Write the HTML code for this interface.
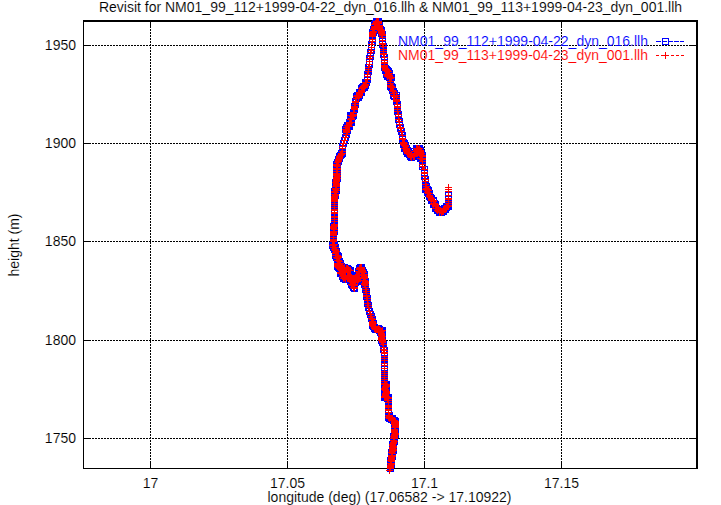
<!DOCTYPE html>
<html><head><meta charset="utf-8"><style>
html,body{margin:0;padding:0;background:#fff;width:721px;height:505px;overflow:hidden}
svg{display:block}
</style></head><body>
<svg width="721" height="505" viewBox="0 0 721 505">
<rect width="721" height="505" fill="#fff"/>
<g shape-rendering="crispEdges">
<line x1="83" y1="45.5" x2="696" y2="45.5" stroke="#000" stroke-width="1" stroke-dasharray="2 1"/>
<line x1="83" y1="143.5" x2="696" y2="143.5" stroke="#000" stroke-width="1" stroke-dasharray="2 1"/>
<line x1="83" y1="241.5" x2="696" y2="241.5" stroke="#000" stroke-width="1" stroke-dasharray="2 1"/>
<line x1="83" y1="340.5" x2="696" y2="340.5" stroke="#000" stroke-width="1" stroke-dasharray="2 1"/>
<line x1="83" y1="438.5" x2="696" y2="438.5" stroke="#000" stroke-width="1" stroke-dasharray="2 1"/>
<line x1="150.5" y1="20" x2="150.5" y2="468" stroke="#000" stroke-width="1" stroke-dasharray="2 1"/>
<line x1="287.5" y1="20" x2="287.5" y2="468" stroke="#000" stroke-width="1" stroke-dasharray="2 1"/>
<line x1="424.5" y1="20" x2="424.5" y2="468" stroke="#000" stroke-width="1" stroke-dasharray="2 1"/>
<line x1="561.5" y1="20" x2="561.5" y2="468" stroke="#000" stroke-width="1" stroke-dasharray="2 1"/>
<rect x="83" y="45" width="8" height="1" fill="#000"/>
<rect x="689" y="45" width="8" height="1" fill="#000"/>
<rect x="83" y="143" width="8" height="1" fill="#000"/>
<rect x="689" y="143" width="8" height="1" fill="#000"/>
<rect x="83" y="241" width="8" height="1" fill="#000"/>
<rect x="689" y="241" width="8" height="1" fill="#000"/>
<rect x="83" y="340" width="8" height="1" fill="#000"/>
<rect x="689" y="340" width="8" height="1" fill="#000"/>
<rect x="83" y="438" width="8" height="1" fill="#000"/>
<rect x="689" y="438" width="8" height="1" fill="#000"/>
<rect x="150" y="461" width="1" height="8" fill="#000"/>
<rect x="150" y="20" width="1" height="8" fill="#000"/>
<rect x="287" y="461" width="1" height="8" fill="#000"/>
<rect x="287" y="20" width="1" height="8" fill="#000"/>
<rect x="424" y="461" width="1" height="8" fill="#000"/>
<rect x="424" y="20" width="1" height="8" fill="#000"/>
<rect x="561" y="461" width="1" height="8" fill="#000"/>
<rect x="561" y="20" width="1" height="8" fill="#000"/>
<rect x="83" y="20" width="615" height="2" fill="#000"/>
<rect x="83" y="468" width="615" height="1" fill="#000"/>
<rect x="83" y="20" width="1" height="449" fill="#000"/>
<rect x="696" y="20" width="2" height="449" fill="#000"/>
<rect x="656" y="41" width="5" height="1" fill="#0000ff"/>
<rect x="662" y="41" width="5" height="1" fill="#0000ff"/>
<rect x="668" y="41" width="5" height="1" fill="#0000ff"/>
<rect x="674" y="41" width="5" height="1" fill="#0000ff"/>
<rect x="680" y="41" width="4" height="1" fill="#0000ff"/>
<path d="M662.5 38.5h6v6h-6z" fill="none" stroke="#0000ff" stroke-width="1"/>
<rect x="656" y="55" width="3" height="1" fill="#ff0000"/>
<rect x="661" y="55" width="3" height="1" fill="#ff0000"/>
<rect x="666" y="55" width="3" height="1" fill="#ff0000"/>
<rect x="671" y="55" width="3" height="1" fill="#ff0000"/>
<rect x="676" y="55" width="3" height="1" fill="#ff0000"/>
<rect x="681" y="55" width="3" height="1" fill="#ff0000"/>
<rect x="662" y="55" width="7" height="1" fill="#ff0000"/>
<rect x="665" y="52" width="1" height="7" fill="#ff0000"/>
</g>
<text x="390.5" y="12" font-family="Liberation Sans, sans-serif" font-size="14" stroke="#fff" stroke-width="0.12" text-anchor="middle">Revisit for NM01_99_112+1999-04-22_dyn_016.llh &amp; NM01_99_113+1999-04-23_dyn_001.llh</text>
<text x="76" y="50" font-family="Liberation Sans, sans-serif" font-size="14" stroke="#fff" stroke-width="0.12" text-anchor="end">1950</text>
<text x="76" y="148" font-family="Liberation Sans, sans-serif" font-size="14" stroke="#fff" stroke-width="0.12" text-anchor="end">1900</text>
<text x="76" y="246" font-family="Liberation Sans, sans-serif" font-size="14" stroke="#fff" stroke-width="0.12" text-anchor="end">1850</text>
<text x="76" y="345" font-family="Liberation Sans, sans-serif" font-size="14" stroke="#fff" stroke-width="0.12" text-anchor="end">1800</text>
<text x="76" y="443" font-family="Liberation Sans, sans-serif" font-size="14" stroke="#fff" stroke-width="0.12" text-anchor="end">1750</text>
<text x="150.5" y="488" font-family="Liberation Sans, sans-serif" font-size="14" stroke="#fff" stroke-width="0.12" text-anchor="middle">17</text>
<text x="287.5" y="488" font-family="Liberation Sans, sans-serif" font-size="14" stroke="#fff" stroke-width="0.12" text-anchor="middle">17.05</text>
<text x="424.5" y="488" font-family="Liberation Sans, sans-serif" font-size="14" stroke="#fff" stroke-width="0.12" text-anchor="middle">17.1</text>
<text x="561.5" y="488" font-family="Liberation Sans, sans-serif" font-size="14" stroke="#fff" stroke-width="0.12" text-anchor="middle">17.15</text>
<text x="389.5" y="502" font-family="Liberation Sans, sans-serif" font-size="14" stroke="#fff" stroke-width="0.12" text-anchor="middle">longitude (deg) (17.06582 -&gt; 17.10922)</text>
<text transform="translate(19,245) rotate(-90)" font-family="Liberation Sans, sans-serif" font-size="14" stroke="#fff" stroke-width="0.12" text-anchor="middle">height (m)</text>
<text x="398" y="46" font-family="Liberation Sans, sans-serif" font-size="14" stroke="#fff" stroke-width="0.12" fill="#0000ff">NM01_99_112+1999-04-22_dyn_016.llh</text>
<text x="398" y="60" font-family="Liberation Sans, sans-serif" font-size="14" stroke="#fff" stroke-width="0.12" fill="#ff0000">NM01_99_113+1999-04-23_dyn_001.llh</text>
<g shape-rendering="crispEdges"><path fill="#0000ff" d="M373 18h3v1h-3zM379 18h3v1h-3zM373 19h3v1h-3zM379 19h3v1h-3zM372 20h3v1h-3zM379 20h3v1h-3zM371 21h2v1h-2zM371 22h2v1h-2zM382 22h1v1h-1zM371 23h1v1h-1zM382 23h1v1h-1zM380 24h3v1h-3zM371 25h3v1h-3zM370 26h1v1h-1zM383 26h1v1h-1zM370 27h1v1h-1zM383 27h2v1h-2zM370 28h1v1h-1zM383 28h2v1h-2zM369 29h1v1h-1zM384 29h1v1h-1zM369 30h3v1h-3zM375 30h2v1h-2zM369 31h1v1h-1zM377 31h1v1h-1zM385 31h1v1h-1zM377 32h1v1h-1zM385 32h1v1h-1zM376 33h2v1h-2zM385 33h1v1h-1zM376 34h1v1h-1zM378 34h1v1h-1zM376 35h1v1h-1zM378 35h1v1h-1zM378 36h3v1h-3zM383 36h3v1h-3zM369 37h3v1h-3zM373 37h3v1h-3zM369 38h3v1h-3zM373 38h3v1h-3zM379 38h3v1h-3zM383 38h3v1h-3zM379 39h1v1h-1zM385 39h1v1h-1zM369 40h1v1h-1zM375 40h1v1h-1zM368 41h1v1h-1zM379 41h3v1h-3zM383 41h3v1h-3zM368 42h3v1h-3zM373 42h3v1h-3zM379 42h1v1h-1zM385 42h1v1h-1zM368 43h2v1h-2zM374 43h2v1h-2zM386 43h1v1h-1zM375 44h1v1h-1zM386 44h1v1h-1zM368 45h1v1h-1zM374 45h1v1h-1zM379 45h2v1h-2zM385 45h2v1h-2zM368 46h1v1h-1zM374 46h1v1h-1zM379 46h1v1h-1zM379 47h3v1h-3zM384 47h3v1h-3zM368 48h1v1h-1zM374 48h1v1h-1zM380 48h3v1h-3zM384 48h3v1h-3zM367 49h3v1h-3zM372 49h3v1h-3zM367 50h1v1h-1zM380 50h3v1h-3zM384 50h3v1h-3zM367 51h2v1h-2zM373 51h2v1h-2zM374 52h1v1h-1zM380 52h3v1h-3zM384 52h3v1h-3zM367 53h3v1h-3zM372 53h3v1h-3zM367 54h1v1h-1zM373 54h1v1h-1zM387 54h1v1h-1zM366 55h3v1h-3zM371 55h3v1h-3zM380 55h2v1h-2zM386 55h2v1h-2zM366 56h1v1h-1zM380 56h3v1h-3zM385 56h3v1h-3zM366 57h2v1h-2zM372 57h2v1h-2zM380 57h1v1h-1zM373 58h1v1h-1zM381 58h1v1h-1zM387 58h1v1h-1zM366 59h3v1h-3zM371 59h3v1h-3zM381 59h3v1h-3zM385 59h3v1h-3zM366 60h1v1h-1zM372 60h1v1h-1zM381 61h1v1h-1zM387 61h1v1h-1zM366 62h1v1h-1zM372 62h1v1h-1zM366 63h1v1h-1zM372 63h1v1h-1zM365 64h1v1h-1zM381 64h3v1h-3zM385 64h3v1h-3zM365 65h2v1h-2zM371 65h2v1h-2zM388 65h1v1h-1zM365 66h3v1h-3zM370 66h3v1h-3zM388 66h2v1h-2zM372 67h1v1h-1zM388 67h3v1h-3zM365 68h3v1h-3zM369 68h3v1h-3zM381 68h1v1h-1zM389 68h3v1h-3zM381 69h1v1h-1zM390 69h2v1h-2zM365 70h3v1h-3zM369 70h3v1h-3zM381 70h1v1h-1zM391 70h2v1h-2zM364 71h1v1h-1zM382 71h2v1h-2zM392 71h1v1h-1zM364 72h3v1h-3zM369 72h3v1h-3zM382 72h3v1h-3zM390 72h3v1h-3zM364 73h3v1h-3zM369 73h3v1h-3zM382 73h3v1h-3zM371 74h1v1h-1zM392 74h3v1h-3zM364 75h1v1h-1zM370 75h1v1h-1zM383 75h1v1h-1zM393 75h2v1h-2zM383 76h1v1h-1zM393 76h2v1h-2zM364 77h3v1h-3zM368 77h3v1h-3zM383 77h3v1h-3zM364 78h1v1h-1zM370 78h1v1h-1zM384 78h3v1h-3zM394 78h1v1h-1zM362 79h2v1h-2zM384 79h3v1h-3zM388 79h1v1h-1zM392 79h3v1h-3zM362 80h3v1h-3zM368 80h3v1h-3zM386 80h3v1h-3zM392 80h3v1h-3zM362 81h3v1h-3zM368 81h3v1h-3zM370 82h1v1h-1zM387 82h3v1h-3zM391 82h3v1h-3zM360 83h3v1h-3zM367 83h3v1h-3zM394 83h1v1h-1zM359 84h3v1h-3zM369 84h1v1h-1zM387 84h3v1h-3zM393 84h3v1h-3zM358 85h3v1h-3zM369 85h1v1h-1zM394 85h2v1h-2zM358 86h2v1h-2zM368 86h1v1h-1zM395 86h1v1h-1zM358 87h1v1h-1zM368 87h1v1h-1zM387 87h1v1h-1zM366 88h3v1h-3zM387 88h3v1h-3zM394 88h3v1h-3zM356 89h3v1h-3zM360 89h1v1h-1zM365 89h3v1h-3zM387 89h3v1h-3zM394 89h3v1h-3zM356 90h2v1h-2zM365 90h3v1h-3zM388 90h1v1h-1zM396 90h2v1h-2zM356 91h2v1h-2zM365 91h1v1h-1zM389 91h1v1h-1zM397 91h1v1h-1zM354 92h2v1h-2zM389 92h3v1h-3zM395 92h1v1h-1zM397 92h3v1h-3zM353 93h3v1h-3zM363 93h2v1h-2zM389 93h1v1h-1zM399 93h1v1h-1zM353 94h3v1h-3zM363 94h2v1h-2zM390 94h3v1h-3zM395 94h1v1h-1zM397 94h3v1h-3zM353 95h1v1h-1zM363 95h2v1h-2zM362 96h1v1h-1zM390 96h1v1h-1zM398 96h2v1h-2zM353 97h2v1h-2zM362 97h1v1h-1zM390 97h2v1h-2zM352 98h1v1h-1zM360 98h3v1h-3zM390 98h3v1h-3zM395 98h1v1h-1zM397 98h3v1h-3zM352 99h3v1h-3zM357 99h1v1h-1zM359 99h3v1h-3zM391 99h2v1h-2zM352 100h2v1h-2zM357 100h1v1h-1zM359 100h3v1h-3zM359 101h1v1h-1zM400 101h1v1h-1zM393 102h3v1h-3zM398 102h3v1h-3zM351 103h3v1h-3zM356 103h3v1h-3zM393 103h3v1h-3zM398 103h3v1h-3zM351 104h1v1h-1zM393 104h1v1h-1zM351 105h3v1h-3zM356 105h3v1h-3zM394 105h1v1h-1zM400 105h1v1h-1zM358 106h1v1h-1zM358 107h1v1h-1zM394 108h3v1h-3zM398 108h3v1h-3zM350 109h1v1h-1zM350 110h3v1h-3zM355 110h3v1h-3zM394 110h3v1h-3zM398 110h3v1h-3zM350 111h3v1h-3zM355 111h3v1h-3zM401 111h1v1h-1zM347 112h3v1h-3zM357 112h1v1h-1zM394 112h3v1h-3zM399 112h3v1h-3zM347 113h3v1h-3zM354 113h3v1h-3zM394 113h3v1h-3zM399 113h3v1h-3zM347 114h3v1h-3zM394 114h1v1h-1zM395 115h1v1h-1zM401 115h1v1h-1zM347 116h2v1h-2zM356 116h1v1h-1zM347 117h3v1h-3zM354 117h3v1h-3zM395 117h3v1h-3zM399 117h3v1h-3zM347 118h1v1h-1zM355 118h2v1h-2zM395 118h3v1h-3zM400 118h3v1h-3zM346 119h1v1h-1zM355 119h1v1h-1zM402 119h1v1h-1zM346 120h3v1h-3zM352 120h3v1h-3zM395 120h2v1h-2zM401 120h2v1h-2zM346 121h3v1h-3zM352 121h3v1h-3zM395 121h1v1h-1zM344 122h2v1h-2zM395 122h3v1h-3zM400 122h3v1h-3zM344 123h2v1h-2zM353 123h2v1h-2zM396 123h1v1h-1zM402 123h1v1h-1zM343 124h3v1h-3zM352 124h3v1h-3zM403 124h1v1h-1zM343 125h1v1h-1zM352 125h3v1h-3zM396 125h3v1h-3zM401 125h3v1h-3zM342 126h3v1h-3zM396 126h2v1h-2zM402 126h2v1h-2zM342 127h1v1h-1zM350 127h3v1h-3zM396 127h1v1h-1zM342 128h3v1h-3zM350 128h3v1h-3zM404 128h1v1h-1zM350 129h3v1h-3zM397 129h2v1h-2zM403 129h2v1h-2zM342 130h1v1h-1zM397 130h3v1h-3zM402 130h3v1h-3zM342 131h1v1h-1zM350 131h1v1h-1zM397 131h1v1h-1zM342 132h1v1h-1zM350 132h1v1h-1zM398 132h3v1h-3zM403 132h3v1h-3zM343 133h3v1h-3zM348 133h3v1h-3zM398 133h2v1h-2zM404 133h2v1h-2zM342 134h1v1h-1zM398 134h3v1h-3zM403 134h3v1h-3zM342 135h3v1h-3zM347 135h3v1h-3zM342 136h2v1h-2zM348 136h2v1h-2zM399 136h3v1h-3zM403 136h3v1h-3zM341 137h1v1h-1zM349 137h1v1h-1zM399 137h1v1h-1zM405 137h1v1h-1zM341 138h2v1h-2zM347 138h2v1h-2zM341 139h2v1h-2zM347 139h2v1h-2zM406 139h1v1h-1zM340 140h1v1h-1zM348 140h1v1h-1zM399 140h3v1h-3zM405 140h3v1h-3zM340 141h2v1h-2zM346 141h2v1h-2zM399 141h3v1h-3zM405 141h3v1h-3zM340 142h2v1h-2zM346 142h2v1h-2zM399 142h1v1h-1zM407 142h2v1h-2zM339 143h1v1h-1zM347 143h1v1h-1zM408 143h1v1h-1zM339 144h2v1h-2zM345 144h2v1h-2zM407 144h2v1h-2zM339 145h3v1h-3zM344 145h3v1h-3zM400 145h1v1h-1zM409 145h1v1h-1zM413 145h3v1h-3zM418 145h1v1h-1zM420 145h3v1h-3zM346 146h1v1h-1zM400 146h2v1h-2zM409 146h1v1h-1zM413 146h3v1h-3zM420 146h3v1h-3zM339 147h1v1h-1zM345 147h1v1h-1zM400 147h3v1h-3zM408 147h3v1h-3zM413 147h3v1h-3zM421 147h3v1h-3zM410 148h3v1h-3zM423 148h1v1h-1zM339 149h3v1h-3zM343 149h3v1h-3zM401 149h2v1h-2zM410 149h2v1h-2zM413 149h1v1h-1zM422 149h2v1h-2zM338 150h3v1h-3zM343 150h3v1h-3zM401 150h2v1h-2zM411 150h2v1h-2zM424 150h1v1h-1zM338 151h1v1h-1zM401 151h2v1h-2zM410 151h1v1h-1zM424 151h1v1h-1zM337 152h3v1h-3zM343 152h3v1h-3zM403 152h1v1h-1zM412 152h2v1h-2zM424 152h2v1h-2zM336 153h2v1h-2zM403 153h1v1h-1zM425 153h1v1h-1zM336 154h2v1h-2zM345 154h1v1h-1zM403 154h3v1h-3zM424 154h2v1h-2zM336 155h1v1h-1zM344 155h2v1h-2zM404 155h3v1h-3zM335 156h1v1h-1zM343 156h3v1h-3zM404 156h3v1h-3zM418 156h1v1h-1zM335 157h1v1h-1zM343 157h2v1h-2zM406 157h2v1h-2zM415 157h5v1h-5zM423 157h3v1h-3zM335 158h1v1h-1zM343 158h1v1h-1zM407 158h3v1h-3zM412 158h1v1h-1zM415 158h2v1h-2zM334 159h1v1h-1zM342 159h1v1h-1zM407 159h3v1h-3zM412 159h1v1h-1zM415 159h4v1h-4zM334 160h1v1h-1zM342 160h1v1h-1zM408 160h3v1h-3zM412 160h3v1h-3zM417 160h3v1h-3zM423 160h3v1h-3zM333 161h2v1h-2zM342 161h1v1h-1zM417 161h2v1h-2zM333 162h1v1h-1zM341 162h1v1h-1zM419 162h3v1h-3zM423 162h3v1h-3zM333 163h3v1h-3zM339 163h3v1h-3zM419 163h3v1h-3zM423 163h3v1h-3zM341 164h1v1h-1zM340 165h1v1h-1zM419 165h1v1h-1zM425 165h1v1h-1zM333 166h1v1h-1zM426 166h2v1h-2zM333 167h3v1h-3zM338 167h3v1h-3zM419 167h3v1h-3zM425 167h1v1h-1zM427 167h1v1h-1zM419 168h1v1h-1zM421 168h1v1h-1zM425 168h1v1h-1zM427 168h1v1h-1zM419 169h2v1h-2zM333 170h3v1h-3zM338 170h3v1h-3zM421 170h3v1h-3zM425 170h3v1h-3zM421 171h1v1h-1zM427 171h1v1h-1zM333 172h3v1h-3zM338 172h3v1h-3zM340 174h1v1h-1zM421 174h1v1h-1zM427 174h1v1h-1zM421 175h3v1h-3zM425 175h3v1h-3zM333 176h1v1h-1zM428 176h1v1h-1zM340 177h1v1h-1zM421 177h2v1h-2zM427 177h2v1h-2zM421 178h3v1h-3zM426 178h3v1h-3zM332 179h1v1h-1zM340 179h1v1h-1zM421 179h1v1h-1zM332 180h1v1h-1zM340 180h1v1h-1zM422 180h1v1h-1zM428 180h1v1h-1zM332 181h1v1h-1zM340 181h1v1h-1zM339 182h1v1h-1zM422 182h3v1h-3zM426 182h3v1h-3zM332 183h1v1h-1zM422 183h3v1h-3zM427 183h3v1h-3zM332 184h1v1h-1zM429 184h1v1h-1zM332 185h1v1h-1zM422 185h3v1h-3zM427 185h3v1h-3zM422 186h1v1h-1zM430 186h1v1h-1zM332 187h3v1h-3zM337 187h3v1h-3zM422 187h3v1h-3zM429 187h3v1h-3zM331 188h1v1h-1zM422 188h1v1h-1zM430 188h2v1h-2zM331 189h1v1h-1zM339 189h1v1h-1zM431 189h1v1h-1zM331 190h2v1h-2zM422 190h2v1h-2zM432 190h1v1h-1zM338 191h2v1h-2zM422 191h3v1h-3zM430 191h3v1h-3zM339 192h1v1h-1zM422 192h2v1h-2zM431 192h2v1h-2zM445 192h3v1h-3zM449 192h3v1h-3zM331 193h3v1h-3zM337 193h3v1h-3zM424 193h1v1h-1zM445 193h1v1h-1zM451 193h1v1h-1zM424 194h3v1h-3zM431 194h3v1h-3zM445 194h1v1h-1zM451 194h1v1h-1zM331 195h1v1h-1zM424 195h2v1h-2zM433 195h2v1h-2zM338 196h1v1h-1zM425 196h1v1h-1zM433 196h2v1h-2zM445 196h3v1h-3zM449 196h3v1h-3zM338 197h1v1h-1zM426 197h1v1h-1zM434 197h3v1h-3zM445 197h1v1h-1zM451 197h1v1h-1zM338 198h1v1h-1zM426 198h2v1h-2zM435 198h2v1h-2zM426 199h2v1h-2zM436 199h1v1h-1zM427 200h1v1h-1zM437 200h1v1h-1zM445 200h3v1h-3zM449 200h3v1h-3zM428 201h2v1h-2zM437 201h2v1h-2zM331 202h3v1h-3zM335 202h3v1h-3zM428 202h3v1h-3zM432 202h1v1h-1zM436 202h3v1h-3zM445 202h3v1h-3zM449 202h3v1h-3zM428 203h2v1h-2zM438 203h1v1h-1zM443 203h2v1h-2zM331 204h3v1h-3zM335 204h3v1h-3zM443 204h3v1h-3zM449 204h3v1h-3zM430 205h2v1h-2zM439 205h1v1h-1zM441 205h3v1h-3zM331 206h3v1h-3zM335 206h3v1h-3zM430 206h2v1h-2zM439 206h4v1h-4zM430 207h3v1h-3zM434 207h1v1h-1zM441 207h2v1h-2zM450 207h2v1h-2zM331 208h3v1h-3zM335 208h3v1h-3zM449 208h3v1h-3zM432 209h3v1h-3zM449 209h3v1h-3zM432 210h2v1h-2zM447 210h3v1h-3zM331 211h1v1h-1zM337 211h1v1h-1zM432 211h3v1h-3zM447 211h2v1h-2zM434 212h2v1h-2zM446 212h3v1h-3zM434 213h3v1h-3zM438 213h1v1h-1zM444 213h3v1h-3zM331 214h3v1h-3zM335 214h3v1h-3zM436 214h3v1h-3zM440 214h1v1h-1zM444 214h3v1h-3zM331 215h3v1h-3zM335 215h3v1h-3zM436 215h3v1h-3zM440 215h1v1h-1zM442 215h3v1h-3zM331 218h3v1h-3zM335 218h3v1h-3zM331 220h3v1h-3zM335 220h3v1h-3zM331 222h3v1h-3zM335 222h3v1h-3zM330 223h3v1h-3zM335 223h3v1h-3zM330 224h1v1h-1zM330 225h1v1h-1zM337 227h1v1h-1zM337 228h1v1h-1zM330 229h1v1h-1zM330 230h3v1h-3zM335 230h3v1h-3zM337 232h1v1h-1zM337 233h1v1h-1zM337 234h1v1h-1zM330 236h3v1h-3zM334 236h3v1h-3zM330 238h3v1h-3zM334 238h3v1h-3zM337 241h1v1h-1zM329 242h3v1h-3zM335 242h3v1h-3zM329 243h3v1h-3zM335 243h3v1h-3zM329 244h1v1h-1zM338 244h1v1h-1zM337 245h2v1h-2zM329 246h3v1h-3zM336 246h3v1h-3zM329 247h1v1h-1zM329 248h3v1h-3zM337 248h3v1h-3zM330 249h1v1h-1zM339 249h1v1h-1zM330 250h2v1h-2zM339 250h1v1h-1zM331 251h2v1h-2zM331 252h1v1h-1zM339 252h2v1h-2zM339 253h3v1h-3zM332 254h3v1h-3zM339 254h3v1h-3zM341 255h1v1h-1zM332 256h3v1h-3zM332 257h1v1h-1zM332 258h2v1h-2zM341 258h2v1h-2zM333 259h3v1h-3zM340 259h3v1h-3zM333 260h1v1h-1zM342 260h2v1h-2zM334 261h2v1h-2zM343 261h1v1h-1zM334 262h3v1h-3zM341 262h3v1h-3zM344 263h1v1h-1zM343 264h1v1h-1zM345 264h3v1h-3zM357 264h3v1h-3zM362 264h3v1h-3zM345 265h1v1h-1zM348 265h3v1h-3zM356 265h3v1h-3zM362 265h3v1h-3zM345 266h1v1h-1zM349 266h3v1h-3zM356 266h3v1h-3zM362 266h3v1h-3zM334 267h1v1h-1zM351 267h3v1h-3zM356 267h1v1h-1zM365 267h1v1h-1zM334 268h2v1h-2zM351 268h3v1h-3zM355 268h1v1h-1zM365 268h1v1h-1zM334 269h3v1h-3zM352 269h2v1h-2zM355 269h1v1h-1zM365 269h2v1h-2zM335 270h3v1h-3zM355 270h3v1h-3zM366 270h1v1h-1zM336 271h3v1h-3zM351 271h3v1h-3zM366 271h2v1h-2zM351 272h5v1h-5zM367 272h1v1h-1zM346 273h1v1h-1zM351 273h5v1h-5zM360 273h1v1h-1zM365 273h3v1h-3zM337 274h2v1h-2zM346 274h1v1h-1zM352 274h3v1h-3zM337 275h3v1h-3zM367 275h1v1h-1zM337 276h2v1h-2zM360 276h1v1h-1zM339 277h2v1h-2zM339 278h1v1h-1zM368 278h1v1h-1zM339 279h3v1h-3zM361 279h2v1h-2zM366 279h3v1h-3zM340 280h3v1h-3zM346 280h1v1h-1zM368 280h1v1h-1zM340 281h3v1h-3zM344 281h1v1h-1zM346 281h1v1h-1zM361 281h1v1h-1zM342 282h3v1h-3zM346 282h3v1h-3zM359 282h3v1h-3zM347 283h3v1h-3zM356 283h1v1h-1zM358 283h3v1h-3zM347 284h1v1h-1zM358 284h3v1h-3zM368 284h1v1h-1zM348 285h1v1h-1zM358 285h1v1h-1zM361 285h1v1h-1zM348 286h3v1h-3zM355 286h3v1h-3zM361 286h3v1h-3zM366 286h3v1h-3zM348 287h2v1h-2zM361 287h1v1h-1zM349 288h2v1h-2zM362 288h3v1h-3zM367 288h3v1h-3zM350 289h2v1h-2zM356 289h2v1h-2zM369 289h1v1h-1zM350 290h3v1h-3zM355 290h3v1h-3zM362 290h3v1h-3zM367 290h3v1h-3zM351 291h3v1h-3zM355 291h3v1h-3zM362 291h1v1h-1zM362 292h3v1h-3zM367 292h3v1h-3zM363 294h3v1h-3zM367 294h3v1h-3zM370 295h1v1h-1zM370 296h1v1h-1zM363 297h3v1h-3zM368 297h3v1h-3zM363 298h1v1h-1zM363 299h3v1h-3zM368 299h3v1h-3zM364 301h3v1h-3zM368 301h3v1h-3zM364 302h3v1h-3zM369 302h3v1h-3zM371 303h1v1h-1zM364 304h3v1h-3zM369 304h3v1h-3zM364 305h1v1h-1zM364 306h3v1h-3zM369 306h3v1h-3zM365 308h3v1h-3zM370 308h3v1h-3zM365 309h2v1h-2zM371 309h2v1h-2zM365 310h3v1h-3zM370 310h3v1h-3zM373 311h1v1h-1zM366 312h2v1h-2zM372 312h2v1h-2zM366 313h3v1h-3zM372 313h3v1h-3zM366 314h1v1h-1zM374 314h1v1h-1zM367 315h3v1h-3zM372 315h3v1h-3zM367 316h1v1h-1zM375 316h1v1h-1zM367 317h3v1h-3zM373 317h3v1h-3zM375 318h1v1h-1zM368 319h1v1h-1zM368 320h3v1h-3zM374 320h3v1h-3zM368 321h1v1h-1zM376 321h1v1h-1zM376 322h1v1h-1zM376 324h2v1h-2zM376 325h2v1h-2zM379 325h3v1h-3zM369 326h1v1h-1zM380 326h3v1h-3zM369 327h2v1h-2zM381 327h1v1h-1zM383 327h3v1h-3zM369 328h2v1h-2zM383 328h3v1h-3zM370 329h2v1h-2zM383 329h3v1h-3zM371 330h3v1h-3zM371 331h3v1h-3zM385 331h1v1h-1zM372 332h3v1h-3zM384 332h2v1h-2zM376 333h2v1h-2zM385 333h1v1h-1zM377 334h1v1h-1zM385 334h1v1h-1zM377 335h1v1h-1zM385 335h1v1h-1zM378 336h1v1h-1zM385 337h1v1h-1zM385 338h1v1h-1zM378 341h1v1h-1zM386 341h1v1h-1zM378 342h1v1h-1zM386 342h1v1h-1zM378 343h3v1h-3zM384 343h3v1h-3zM379 344h1v1h-1zM379 345h3v1h-3zM384 345h3v1h-3zM380 346h3v1h-3zM384 346h3v1h-3zM387 347h1v1h-1zM380 348h2v1h-2zM386 348h2v1h-2zM387 349h1v1h-1zM380 350h1v1h-1zM380 351h2v1h-2zM386 351h2v1h-2zM380 352h1v1h-1zM381 354h1v1h-1zM387 354h1v1h-1zM381 355h3v1h-3zM385 355h3v1h-3zM381 357h3v1h-3zM385 357h3v1h-3zM381 359h3v1h-3zM385 359h3v1h-3zM381 361h3v1h-3zM385 361h3v1h-3zM381 362h3v1h-3zM385 362h3v1h-3zM381 364h1v1h-1zM387 364h1v1h-1zM381 366h3v1h-3zM385 366h3v1h-3zM381 367h1v1h-1zM387 367h1v1h-1zM381 369h1v1h-1zM387 369h1v1h-1zM381 370h3v1h-3zM385 370h3v1h-3zM381 372h3v1h-3zM385 372h3v1h-3zM381 374h3v1h-3zM385 374h3v1h-3zM381 376h3v1h-3zM385 376h3v1h-3zM381 378h3v1h-3zM385 378h3v1h-3zM381 380h3v1h-3zM385 380h3v1h-3zM388 381h2v1h-2zM381 382h3v1h-3zM387 382h3v1h-3zM388 383h2v1h-2zM381 385h2v1h-2zM381 386h1v1h-1zM381 387h1v1h-1zM389 387h1v1h-1zM388 388h2v1h-2zM389 389h1v1h-1zM381 390h1v1h-1zM389 390h1v1h-1zM381 391h2v1h-2zM381 392h2v1h-2zM381 393h1v1h-1zM381 394h1v1h-1zM389 394h3v1h-3zM381 395h1v1h-1zM389 395h3v1h-3zM390 396h2v1h-2zM381 398h3v1h-3zM381 399h3v1h-3zM389 399h3v1h-3zM381 400h3v1h-3zM384 401h3v1h-3zM389 401h3v1h-3zM385 403h3v1h-3zM389 403h3v1h-3zM385 404h3v1h-3zM389 404h3v1h-3zM385 408h3v1h-3zM389 408h3v1h-3zM385 411h1v1h-1zM391 411h1v1h-1zM392 412h1v1h-1zM385 413h3v1h-3zM390 413h3v1h-3zM385 414h3v1h-3zM390 414h3v1h-3zM393 415h3v1h-3zM385 416h1v1h-1zM393 416h3v1h-3zM395 417h3v1h-3zM385 418h1v1h-1zM396 418h3v1h-3zM385 419h3v1h-3zM396 419h3v1h-3zM385 420h3v1h-3zM398 420h1v1h-1zM386 421h3v1h-3zM390 421h1v1h-1zM388 422h3v1h-3zM390 423h1v1h-1zM391 425h1v1h-1zM391 426h1v1h-1zM391 428h3v1h-3zM396 428h3v1h-3zM398 429h1v1h-1zM398 430h1v1h-1zM398 431h1v1h-1zM398 432h1v1h-1zM390 433h2v1h-2zM390 434h1v1h-1zM390 435h1v1h-1zM398 435h1v1h-1zM398 436h1v1h-1zM390 437h1v1h-1zM398 437h1v1h-1zM390 439h3v1h-3zM395 439h3v1h-3zM397 440h1v1h-1zM389 441h2v1h-2zM389 442h1v1h-1zM397 442h1v1h-1zM389 443h1v1h-1zM397 443h1v1h-1zM396 444h2v1h-2zM396 445h1v1h-1zM389 446h1v1h-1zM396 448h1v1h-1zM388 449h1v1h-1zM388 450h1v1h-1zM388 451h1v1h-1zM396 451h1v1h-1zM395 452h2v1h-2zM388 453h1v1h-1zM396 453h1v1h-1zM388 454h3v1h-3zM393 454h3v1h-3zM387 457h1v1h-1zM395 457h1v1h-1zM387 458h1v1h-1zM395 458h1v1h-1zM387 459h1v1h-1zM395 459h1v1h-1zM387 461h1v1h-1zM387 462h3v1h-3zM392 462h3v1h-3zM387 464h1v1h-1zM394 465h1v1h-1zM394 466h1v1h-1zM394 467h1v1h-1zM387 469h2v1h-2zM391 469h3v1h-3zM393 470h1v1h-1zM387 471h2v1h-2zM391 471h3v1h-3z"/><path fill="#ff0000" d="M376 18h3v1h-3zM376 19h3v1h-3zM375 20h4v1h-4zM373 21h9v1h-9zM373 22h9v1h-9zM372 23h10v1h-10zM371 24h9v1h-9zM374 25h9v1h-9zM371 26h12v1h-12zM371 27h12v1h-12zM371 28h12v1h-12zM370 29h14v1h-14zM372 30h3v1h-3zM377 30h8v1h-8zM370 31h7v1h-7zM378 31h7v1h-7zM369 32h8v1h-8zM378 32h7v1h-7zM369 33h7v1h-7zM378 33h7v1h-7zM369 34h7v1h-7zM379 34h7v1h-7zM369 35h7v1h-7zM379 35h7v1h-7zM369 36h7v1h-7zM381 36h2v1h-2zM372 37h1v1h-1zM379 37h7v1h-7zM372 38h1v1h-1zM382 38h1v1h-1zM369 39h7v1h-7zM382 39h1v1h-1zM372 40h1v1h-1zM379 40h7v1h-7zM369 41h7v1h-7zM382 41h1v1h-1zM371 42h2v1h-2zM382 42h1v1h-1zM371 43h2v1h-2zM379 43h7v1h-7zM368 44h7v1h-7zM379 44h7v1h-7zM371 45h1v1h-1zM382 45h2v1h-2zM371 46h1v1h-1zM380 46h7v1h-7zM368 47h7v1h-7zM382 47h2v1h-2zM371 48h1v1h-1zM383 48h1v1h-1zM370 49h2v1h-2zM380 49h7v1h-7zM368 50h7v1h-7zM383 50h1v1h-1zM370 51h2v1h-2zM380 51h7v1h-7zM367 52h7v1h-7zM383 52h1v1h-1zM370 53h2v1h-2zM380 53h7v1h-7zM370 54h1v1h-1zM380 54h7v1h-7zM369 55h2v1h-2zM383 55h2v1h-2zM367 56h7v1h-7zM383 56h2v1h-2zM369 57h2v1h-2zM381 57h7v1h-7zM366 58h7v1h-7zM384 58h1v1h-1zM369 59h2v1h-2zM384 59h1v1h-1zM369 60h1v1h-1zM381 60h7v1h-7zM366 61h7v1h-7zM384 61h1v1h-1zM369 62h1v1h-1zM381 62h7v1h-7zM369 63h1v1h-1zM381 63h7v1h-7zM366 64h7v1h-7zM384 64h1v1h-1zM368 65h2v1h-2zM381 65h7v1h-7zM368 66h2v1h-2zM381 66h7v1h-7zM365 67h7v1h-7zM381 67h7v1h-7zM368 68h1v1h-1zM382 68h7v1h-7zM365 69h7v1h-7zM382 69h8v1h-8zM368 70h1v1h-1zM382 70h9v1h-9zM365 71h7v1h-7zM384 71h8v1h-8zM367 72h2v1h-2zM385 72h5v1h-5zM367 73h2v1h-2zM385 73h8v1h-8zM364 74h7v1h-7zM383 74h9v1h-9zM367 75h1v1h-1zM384 75h9v1h-9zM364 76h7v1h-7zM384 76h9v1h-9zM367 77h1v1h-1zM386 77h9v1h-9zM367 78h1v1h-1zM387 78h7v1h-7zM364 79h7v1h-7zM387 79h1v1h-1zM389 79h3v1h-3zM365 80h3v1h-3zM389 80h3v1h-3zM365 81h3v1h-3zM387 81h7v1h-7zM362 82h8v1h-8zM390 82h1v1h-1zM363 83h4v1h-4zM387 83h7v1h-7zM362 84h7v1h-7zM390 84h3v1h-3zM361 85h8v1h-8zM387 85h7v1h-7zM360 86h8v1h-8zM387 86h8v1h-8zM359 87h9v1h-9zM388 87h8v1h-8zM358 88h8v1h-8zM390 88h4v1h-4zM359 89h1v1h-1zM361 89h4v1h-4zM390 89h4v1h-4zM358 90h7v1h-7zM389 90h7v1h-7zM358 91h7v1h-7zM390 91h7v1h-7zM356 92h9v1h-9zM392 92h3v1h-3zM396 92h1v1h-1zM356 93h7v1h-7zM390 93h8v1h-8zM356 94h7v1h-7zM393 94h2v1h-2zM396 94h1v1h-1zM354 95h9v1h-9zM390 95h10v1h-10zM353 96h9v1h-9zM391 96h7v1h-7zM355 97h7v1h-7zM393 97h7v1h-7zM353 98h7v1h-7zM393 98h2v1h-2zM396 98h1v1h-1zM355 99h2v1h-2zM358 99h1v1h-1zM393 99h7v1h-7zM355 100h2v1h-2zM358 100h1v1h-1zM393 100h7v1h-7zM352 101h7v1h-7zM393 101h7v1h-7zM352 102h7v1h-7zM396 102h2v1h-2zM354 103h2v1h-2zM396 103h2v1h-2zM352 104h7v1h-7zM394 104h7v1h-7zM354 105h2v1h-2zM397 105h1v1h-1zM351 106h7v1h-7zM394 106h7v1h-7zM351 107h7v1h-7zM394 107h7v1h-7zM351 108h7v1h-7zM397 108h1v1h-1zM351 109h7v1h-7zM394 109h7v1h-7zM353 110h2v1h-2zM397 110h1v1h-1zM353 111h2v1h-2zM394 111h7v1h-7zM350 112h7v1h-7zM397 112h2v1h-2zM350 113h4v1h-4zM397 113h2v1h-2zM350 114h7v1h-7zM395 114h7v1h-7zM347 115h10v1h-10zM398 115h1v1h-1zM349 116h7v1h-7zM395 116h7v1h-7zM350 117h4v1h-4zM398 117h1v1h-1zM348 118h7v1h-7zM398 118h2v1h-2zM347 119h8v1h-8zM395 119h7v1h-7zM349 120h3v1h-3zM398 120h2v1h-2zM349 121h3v1h-3zM396 121h7v1h-7zM346 122h9v1h-9zM398 122h2v1h-2zM346 123h7v1h-7zM399 123h1v1h-1zM346 124h6v1h-6zM396 124h7v1h-7zM344 125h8v1h-8zM399 125h2v1h-2zM345 126h8v1h-8zM399 126h2v1h-2zM343 127h7v1h-7zM397 127h7v1h-7zM345 128h5v1h-5zM397 128h7v1h-7zM342 129h8v1h-8zM400 129h2v1h-2zM343 130h8v1h-8zM400 130h2v1h-2zM343 131h7v1h-7zM398 131h7v1h-7zM343 132h7v1h-7zM401 132h2v1h-2zM346 133h2v1h-2zM401 133h2v1h-2zM343 134h7v1h-7zM401 134h2v1h-2zM345 135h2v1h-2zM399 135h7v1h-7zM345 136h2v1h-2zM402 136h1v1h-1zM342 137h7v1h-7zM402 137h1v1h-1zM344 138h2v1h-2zM399 138h7v1h-7zM344 139h2v1h-2zM399 139h7v1h-7zM341 140h7v1h-7zM402 140h3v1h-3zM343 141h2v1h-2zM402 141h3v1h-3zM343 142h2v1h-2zM400 142h7v1h-7zM340 143h7v1h-7zM400 143h8v1h-8zM342 144h2v1h-2zM400 144h7v1h-7zM342 145h2v1h-2zM401 145h8v1h-8zM416 145h2v1h-2zM419 145h1v1h-1zM339 146h7v1h-7zM402 146h7v1h-7zM416 146h4v1h-4zM342 147h1v1h-1zM403 147h5v1h-5zM416 147h5v1h-5zM339 148h7v1h-7zM401 148h9v1h-9zM413 148h10v1h-10zM342 149h1v1h-1zM403 149h7v1h-7zM414 149h8v1h-8zM341 150h2v1h-2zM403 150h8v1h-8zM413 150h11v1h-11zM339 151h7v1h-7zM403 151h7v1h-7zM411 151h13v1h-13zM340 152h3v1h-3zM404 152h8v1h-8zM414 152h10v1h-10zM338 153h8v1h-8zM404 153h21v1h-21zM338 154h7v1h-7zM406 154h18v1h-18zM337 155h7v1h-7zM407 155h19v1h-19zM336 156h7v1h-7zM407 156h11v1h-11zM419 156h7v1h-7zM336 157h7v1h-7zM408 157h7v1h-7zM420 157h3v1h-3zM336 158h7v1h-7zM410 158h2v1h-2zM413 158h2v1h-2zM417 158h9v1h-9zM335 159h7v1h-7zM410 159h2v1h-2zM413 159h2v1h-2zM419 159h7v1h-7zM335 160h7v1h-7zM411 160h1v1h-1zM420 160h3v1h-3zM335 161h7v1h-7zM419 161h7v1h-7zM334 162h7v1h-7zM422 162h1v1h-1zM336 163h3v1h-3zM422 163h1v1h-1zM333 164h8v1h-8zM419 164h7v1h-7zM333 165h7v1h-7zM422 165h1v1h-1zM334 166h7v1h-7zM419 166h7v1h-7zM336 167h2v1h-2zM422 167h3v1h-3zM333 168h8v1h-8zM422 168h3v1h-3zM333 169h8v1h-8zM421 169h7v1h-7zM336 170h2v1h-2zM424 170h1v1h-1zM333 171h8v1h-8zM424 171h1v1h-1zM336 172h2v1h-2zM421 172h7v1h-7zM333 173h8v1h-8zM421 173h7v1h-7zM333 174h7v1h-7zM424 174h1v1h-1zM333 175h8v1h-8zM424 175h1v1h-1zM334 176h7v1h-7zM421 176h7v1h-7zM333 177h7v1h-7zM424 177h2v1h-2zM333 178h8v1h-8zM424 178h2v1h-2zM333 179h7v1h-7zM422 179h7v1h-7zM333 180h7v1h-7zM425 180h1v1h-1zM333 181h7v1h-7zM422 181h7v1h-7zM332 182h7v1h-7zM425 182h1v1h-1zM333 183h7v1h-7zM425 183h2v1h-2zM333 184h7v1h-7zM422 184h7v1h-7zM448 184h1v1h-1zM333 185h7v1h-7zM425 185h2v1h-2zM448 185h1v1h-1zM332 186h8v1h-8zM423 186h7v1h-7zM448 186h1v1h-1zM335 187h2v1h-2zM425 187h4v1h-4zM445 187h7v1h-7zM332 188h8v1h-8zM423 188h7v1h-7zM448 188h1v1h-1zM332 189h7v1h-7zM422 189h9v1h-9zM445 189h7v1h-7zM333 190h7v1h-7zM424 190h8v1h-8zM448 190h1v1h-1zM331 191h7v1h-7zM425 191h5v1h-5zM445 191h7v1h-7zM331 192h8v1h-8zM424 192h7v1h-7zM448 192h1v1h-1zM334 193h3v1h-3zM425 193h8v1h-8zM448 193h1v1h-1zM331 194h8v1h-8zM427 194h4v1h-4zM448 194h1v1h-1zM332 195h7v1h-7zM426 195h7v1h-7zM445 195h7v1h-7zM331 196h7v1h-7zM426 196h7v1h-7zM448 196h1v1h-1zM331 197h7v1h-7zM427 197h7v1h-7zM448 197h1v1h-1zM331 198h7v1h-7zM428 198h7v1h-7zM445 198h7v1h-7zM331 199h7v1h-7zM428 199h7v1h-7zM445 199h7v1h-7zM331 200h7v1h-7zM428 200h9v1h-9zM448 200h1v1h-1zM331 201h7v1h-7zM430 201h7v1h-7zM445 201h7v1h-7zM334 202h1v1h-1zM431 202h1v1h-1zM433 202h3v1h-3zM448 202h1v1h-1zM331 203h7v1h-7zM430 203h8v1h-8zM445 203h7v1h-7zM334 204h1v1h-1zM430 204h9v1h-9zM446 204h3v1h-3zM331 205h7v1h-7zM432 205h7v1h-7zM444 205h8v1h-8zM334 206h1v1h-1zM432 206h7v1h-7zM443 206h9v1h-9zM331 207h7v1h-7zM433 207h1v1h-1zM435 207h6v1h-6zM443 207h7v1h-7zM334 208h1v1h-1zM432 208h17v1h-17zM331 209h7v1h-7zM435 209h14v1h-14zM331 210h7v1h-7zM434 210h13v1h-13zM334 211h1v1h-1zM435 211h12v1h-12zM331 212h7v1h-7zM436 212h10v1h-10zM331 213h7v1h-7zM437 213h1v1h-1zM439 213h5v1h-5zM334 214h1v1h-1zM439 214h1v1h-1zM441 214h3v1h-3zM334 215h1v1h-1zM439 215h1v1h-1zM441 215h1v1h-1zM331 216h7v1h-7zM331 217h7v1h-7zM334 218h1v1h-1zM331 219h7v1h-7zM334 220h1v1h-1zM331 221h7v1h-7zM334 222h1v1h-1zM333 223h2v1h-2zM331 224h7v1h-7zM331 225h7v1h-7zM330 226h8v1h-8zM330 227h7v1h-7zM330 228h7v1h-7zM331 229h7v1h-7zM333 230h2v1h-2zM330 231h8v1h-8zM330 232h7v1h-7zM330 233h7v1h-7zM330 234h7v1h-7zM330 235h7v1h-7zM333 236h1v1h-1zM330 237h7v1h-7zM333 238h1v1h-1zM330 239h7v1h-7zM330 240h7v1h-7zM330 241h7v1h-7zM332 242h3v1h-3zM332 243h3v1h-3zM330 244h8v1h-8zM329 245h8v1h-8zM332 246h4v1h-4zM330 247h9v1h-9zM332 248h5v1h-5zM331 249h8v1h-8zM332 250h7v1h-7zM333 251h7v1h-7zM332 252h7v1h-7zM332 253h7v1h-7zM335 254h4v1h-4zM332 255h9v1h-9zM335 256h7v1h-7zM333 257h9v1h-9zM334 258h7v1h-7zM336 259h4v1h-4zM334 260h8v1h-8zM336 261h7v1h-7zM337 262h4v1h-4zM334 263h10v1h-10zM334 264h9v1h-9zM344 264h1v1h-1zM360 264h2v1h-2zM334 265h11v1h-11zM346 265h2v1h-2zM359 265h3v1h-3zM334 266h11v1h-11zM346 266h3v1h-3zM359 266h3v1h-3zM335 267h16v1h-16zM357 267h8v1h-8zM336 268h15v1h-15zM356 268h9v1h-9zM337 269h15v1h-15zM356 269h9v1h-9zM338 270h16v1h-16zM358 270h8v1h-8zM339 271h12v1h-12zM355 271h11v1h-11zM337 272h14v1h-14zM356 272h11v1h-11zM337 273h9v1h-9zM347 273h4v1h-4zM356 273h4v1h-4zM361 273h4v1h-4zM339 274h7v1h-7zM347 274h5v1h-5zM355 274h13v1h-13zM340 275h27v1h-27zM339 276h21v1h-21zM361 276h7v1h-7zM341 277h27v1h-27zM340 278h28v1h-28zM342 279h19v1h-19zM363 279h3v1h-3zM343 280h3v1h-3zM347 280h21v1h-21zM343 281h1v1h-1zM345 281h1v1h-1zM347 281h14v1h-14zM362 281h7v1h-7zM345 282h1v1h-1zM349 282h10v1h-10zM362 282h7v1h-7zM350 283h6v1h-6zM357 283h1v1h-1zM361 283h8v1h-8zM348 284h10v1h-10zM361 284h7v1h-7zM349 285h9v1h-9zM362 285h7v1h-7zM351 286h4v1h-4zM364 286h2v1h-2zM350 287h8v1h-8zM362 287h7v1h-7zM351 288h7v1h-7zM365 288h2v1h-2zM353 289h2v1h-2zM362 289h7v1h-7zM353 290h2v1h-2zM365 290h2v1h-2zM354 291h1v1h-1zM363 291h7v1h-7zM365 292h2v1h-2zM363 293h7v1h-7zM366 294h1v1h-1zM363 295h7v1h-7zM363 296h7v1h-7zM366 297h2v1h-2zM364 298h7v1h-7zM366 299h2v1h-2zM364 300h7v1h-7zM367 301h1v1h-1zM367 302h2v1h-2zM364 303h7v1h-7zM367 304h2v1h-2zM365 305h7v1h-7zM367 306h2v1h-2zM365 307h7v1h-7zM368 308h2v1h-2zM368 309h2v1h-2zM368 310h2v1h-2zM366 311h7v1h-7zM369 312h2v1h-2zM369 313h3v1h-3zM367 314h7v1h-7zM370 315h2v1h-2zM368 316h7v1h-7zM370 317h3v1h-3zM368 318h7v1h-7zM369 319h7v1h-7zM371 320h3v1h-3zM369 321h7v1h-7zM369 322h7v1h-7zM369 323h8v1h-8zM369 324h7v1h-7zM369 325h7v1h-7zM378 325h1v1h-1zM370 326h10v1h-10zM371 327h10v1h-10zM382 327h1v1h-1zM371 328h12v1h-12zM372 329h11v1h-11zM374 330h12v1h-12zM374 331h11v1h-11zM375 332h9v1h-9zM378 333h7v1h-7zM378 334h7v1h-7zM378 335h7v1h-7zM379 336h7v1h-7zM378 337h7v1h-7zM378 338h7v1h-7zM378 339h8v1h-8zM378 340h8v1h-8zM379 341h7v1h-7zM379 342h7v1h-7zM381 343h3v1h-3zM380 344h7v1h-7zM382 345h2v1h-2zM383 346h1v1h-1zM380 347h7v1h-7zM383 348h2v1h-2zM380 349h7v1h-7zM381 350h7v1h-7zM383 351h2v1h-2zM381 352h7v1h-7zM381 353h7v1h-7zM384 354h1v1h-1zM384 355h1v1h-1zM381 356h7v1h-7zM384 357h1v1h-1zM381 358h7v1h-7zM384 359h1v1h-1zM381 360h7v1h-7zM384 361h1v1h-1zM384 362h1v1h-1zM381 363h7v1h-7zM384 364h1v1h-1zM381 365h7v1h-7zM384 366h1v1h-1zM384 367h1v1h-1zM381 368h7v1h-7zM384 369h1v1h-1zM384 370h1v1h-1zM381 371h7v1h-7zM384 372h1v1h-1zM381 373h7v1h-7zM384 374h1v1h-1zM381 375h7v1h-7zM384 376h1v1h-1zM381 377h7v1h-7zM384 378h1v1h-1zM381 379h7v1h-7zM384 380h1v1h-1zM381 381h7v1h-7zM384 382h3v1h-3zM381 383h7v1h-7zM381 384h9v1h-9zM383 385h7v1h-7zM382 386h8v1h-8zM382 387h7v1h-7zM381 388h7v1h-7zM381 389h8v1h-8zM382 390h7v1h-7zM383 391h7v1h-7zM383 392h7v1h-7zM382 393h8v1h-8zM382 394h7v1h-7zM382 395h7v1h-7zM381 396h9v1h-9zM381 397h11v1h-11zM384 398h8v1h-8zM384 399h5v1h-5zM384 400h8v1h-8zM387 401h2v1h-2zM385 402h7v1h-7zM388 403h1v1h-1zM388 404h1v1h-1zM385 405h7v1h-7zM385 406h7v1h-7zM385 407h7v1h-7zM388 408h1v1h-1zM385 409h7v1h-7zM385 410h7v1h-7zM388 411h1v1h-1zM385 412h7v1h-7zM388 413h2v1h-2zM388 414h2v1h-2zM385 415h8v1h-8zM386 416h7v1h-7zM385 417h10v1h-10zM386 418h10v1h-10zM388 419h8v1h-8zM388 420h10v1h-10zM389 421h1v1h-1zM391 421h8v1h-8zM391 422h8v1h-8zM391 423h8v1h-8zM391 424h8v1h-8zM392 425h7v1h-7zM392 426h7v1h-7zM391 427h8v1h-8zM394 428h2v1h-2zM391 429h7v1h-7zM391 430h7v1h-7zM391 431h7v1h-7zM391 432h7v1h-7zM392 433h7v1h-7zM391 434h8v1h-8zM391 435h7v1h-7zM390 436h8v1h-8zM391 437h7v1h-7zM390 438h8v1h-8zM393 439h2v1h-2zM390 440h7v1h-7zM391 441h7v1h-7zM390 442h7v1h-7zM390 443h7v1h-7zM389 444h7v1h-7zM389 445h7v1h-7zM390 446h7v1h-7zM389 447h8v1h-8zM389 448h7v1h-7zM389 449h8v1h-8zM389 450h8v1h-8zM389 451h7v1h-7zM388 452h7v1h-7zM389 453h7v1h-7zM391 454h2v1h-2zM388 455h8v1h-8zM388 456h8v1h-8zM388 457h7v1h-7zM388 458h7v1h-7zM388 459h7v1h-7zM387 460h8v1h-8zM388 461h7v1h-7zM390 462h2v1h-2zM387 463h8v1h-8zM388 464h7v1h-7zM387 465h7v1h-7zM387 466h7v1h-7zM387 467h7v1h-7zM387 468h7v1h-7zM389 469h2v1h-2zM386 470h7v1h-7zM389 471h2v1h-2zM389 472h1v1h-1zM389 473h1v1h-1z"/></g>
</svg>
</body></html>
